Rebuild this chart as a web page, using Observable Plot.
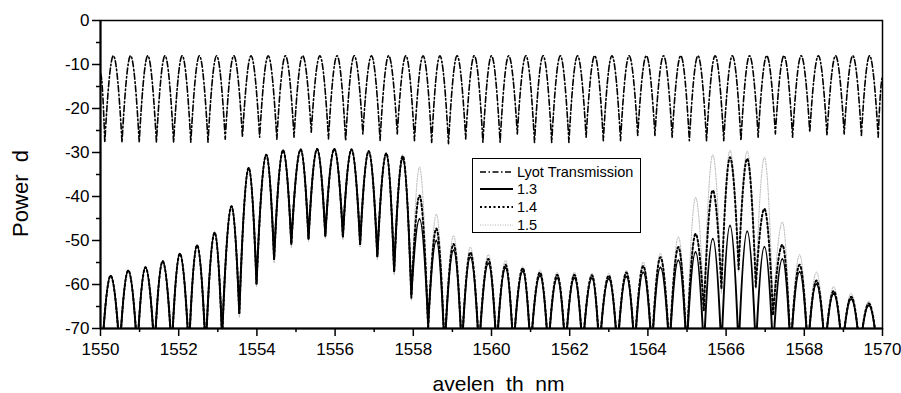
<!DOCTYPE html>
<html>
<head>
<meta charset="utf-8">
<script src="https://cdn.jsdelivr.net/npm/d3@7"></script>
<script src="https://cdn.jsdelivr.net/npm/@observablehq/plot@0.6"></script>
<style>
  body { margin: 0; background: #fff; }
  #wrap { position: relative; width: 901px; height: 393px; font-family: "Liberation Sans", Arial, sans-serif; }
  #legend { position: absolute; left: 472px; top: 158px; width: 169px; height: 75px; border: 1px solid #000;
            background: #fff; box-sizing: border-box; font-size: 14.5px; color: #000; }
  #legend .row { position: absolute; left: 0; height: 18px; display: flex; align-items: center; white-space: nowrap; }
  #legend svg { margin-left: 7px; margin-right: 4px; }
</style>
</head>
<body>
<div id="wrap">
  <div id="chart"></div>
  <div id="legend"></div>
</div>
<script>
// ---- data ----
const xTicks = [1550, 1552, 1554, 1556, 1558, 1560, 1562, 1564, 1566, 1568, 1570];
const xMinorTicks = [1551, 1553, 1555, 1557, 1559, 1561, 1563, 1565, 1567, 1569];
const yTicks = [0, -10, -20, -30, -40, -50, -60, -70];
const yMinorTicks = [-5, -15, -25, -35, -45, -55, -65];

const seriesNames = ["Lyot Transmission", "1.3", "1.4", "1.5"];
const xLabel = "avelen\u00a0\u00a0th\u00a0\u00a0nm";
const yLabel = "Power\u00a0\u00a0d";

// Lyot transmission: peak and dip wavelengths (nm) and levels (dB)
const lyotPeakX = [1550.33,1550.77,1551.21,1551.65,1552.09,1552.53,1552.97,1553.41,1553.85,1554.29,1554.73,1555.17,1555.61,1556.05,1556.49,1556.93,1557.37,1557.81,1558.25,1558.68,1559.12,1559.56,1560.00,1560.44,1560.88,1561.32,1561.76,1562.20,1562.64,1563.08,1563.52,1563.96,1564.40,1564.84,1565.28,1565.72,1566.16,1566.60,1567.04,1567.48,1567.92,1568.36,1568.80,1569.24,1569.67];
const lyotPeakY = [-8,-8,-8,-8,-8,-8,-8,-8,-8,-8,-8,-8,-8,-8,-8,-8,-8,-8,-8,-8,-8,-8,-8,-8,-8,-8,-8,-8,-8,-8,-8,-8,-8,-8,-8,-8,-8,-8,-8,-8,-8,-8,-8,-8,-8];
const lyotDipX = [1550.11,1550.55,1550.99,1551.43,1551.87,1552.31,1552.75,1553.19,1553.63,1554.07,1554.51,1554.95,1555.39,1555.83,1556.27,1556.71,1557.15,1557.59,1558.03,1558.47,1558.90,1559.34,1559.78,1560.22,1560.66,1561.10,1561.54,1561.98,1562.42,1562.86,1563.30,1563.74,1564.18,1564.62,1565.06,1565.50,1565.94,1566.38,1566.82,1567.26,1567.70,1568.14,1568.58,1569.02,1569.46,1569.89];
const lyotDipY = [-27.7,-27.7,-27.7,-27.7,-27.7,-27.7,-27.7,-27.0,-26.5,-26.5,-27.0,-26.5,-25.4,-26.9,-27.3,-25.8,-27.3,-25.8,-27.3,-27.7,-28,-26.9,-27.7,-27.7,-25.8,-27.7,-27.7,-27.7,-26.5,-27.3,-27.3,-26.1,-26.1,-26.5,-27.3,-27.3,-27.3,-27.3,-26.5,-25.8,-26.5,-25.4,-26.1,-25.8,-26.1,-26.5];
const lyotEdgeX = [1550.0, 1570.0];
const lyotEdgeY = [-12, -13];

// Signal curves: shared peak / dip wavelengths
const signalPeakX = [1550.26,1550.71,1551.15,1551.59,1552.03,1552.47,1552.92,1553.35,1553.79,1554.24,1554.67,1555.12,1555.54,1555.98,1556.42,1556.86,1557.31,1557.73,1558.16,1558.59,1559.03,1559.46,1559.92,1560.36,1560.80,1561.24,1561.68,1562.12,1562.57,1563.00,1563.45,1563.88,1564.32,1564.78,1565.22,1565.66,1566.10,1566.54,1566.98,1567.44,1567.88,1568.31,1568.75,1569.20,1569.65];
const signalDipX = [1550.04,1550.49,1550.94,1551.38,1551.82,1552.26,1552.69,1553.11,1553.55,1553.99,1554.44,1554.88,1555.32,1555.75,1556.20,1556.64,1557.08,1557.51,1557.95,1558.38,1558.80,1559.24,1559.68,1560.13,1560.56,1561.00,1561.45,1561.89,1562.33,1562.76,1563.22,1563.66,1564.10,1564.55,1564.99,1565.43,1565.88,1566.32,1566.76,1567.20,1567.65,1568.09,1568.53,1568.97,1569.42,1569.87];

const peak13 = [-58,-56.8,-56.1,-54.7,-53,-51.1,-48.2,-42.2,-33.5,-30.5,-29.5,-29.3,-29.2,-29.2,-29.3,-29.7,-30.2,-31.5,-45.1,-50,-52.2,-53.8,-55.2,-56.2,-57,-58,-58.5,-58.5,-58.5,-58.7,-58.2,-57.2,-56.1,-54.5,-52.6,-49.6,-46.6,-47.9,-51.4,-54.2,-57.1,-59.9,-62.1,-63.3,-64.8];
const dip13 = [-75,-75,-75,-75,-75,-75,-75,-72,-66.5,-59.8,-54.2,-50.8,-49.6,-48.9,-49.1,-50.8,-53.6,-57,-62.5,-69,-75,-75,-75,-75,-75,-75,-75,-75,-75,-75,-75,-75,-75,-75,-75,-75,-75,-75,-75,-75,-75,-75,-75,-75,-75,-75];

const peak14 = [-58,-56.8,-56.1,-54.7,-53,-51.1,-48.2,-42.2,-33.5,-30.5,-29.5,-29.3,-29.2,-29.2,-29.3,-29.7,-30.2,-30.8,-39.8,-47.3,-50.8,-52.7,-54.2,-55.5,-56.3,-57.3,-57.8,-57.8,-57.9,-58,-57.3,-55.8,-53.8,-51.5,-48.5,-38.6,-31.1,-31.4,-42.8,-51,-55.5,-59.1,-61.5,-62.8,-64.3];
const dip14 = [-75,-75,-75,-75,-75,-75,-75,-72,-66.5,-59.8,-54.2,-50.8,-49.6,-48.9,-49.1,-50.8,-53.6,-57,-63,-70,-75,-75,-75,-75,-75,-75,-75,-75,-75,-75,-75,-75,-75,-75,-75,-66,-61,-56.5,-60.5,-67,-75,-75,-75,-75,-75,-75];

const peak15 = [-58,-56.8,-56.1,-54.7,-53,-51.1,-48.2,-42.2,-33.5,-30.5,-29.5,-29.3,-29.2,-29.2,-29.3,-29.7,-30.2,-30.5,-33.3,-44,-48.9,-51.5,-53.2,-54.5,-56,-56.7,-57.2,-57.2,-57.4,-57.5,-56.8,-54.9,-52.9,-49.2,-40.2,-30.5,-29.5,-29.7,-31.1,-45.8,-53.2,-57.2,-60.5,-62,-63.8];
const dip15 = [-75,-75,-75,-75,-75,-75,-75,-73,-67.5,-60.5,-55.1,-51.6,-50.3,-49.6,-49.8,-51.5,-54.3,-57.8,-63.6,-72,-75,-75,-75,-75,-75,-75,-75,-75,-75,-75,-75,-75,-75,-75,-75,-65,-62,-57,-61,-66,-75,-75,-75,-75,-75,-75];

// ---- build tables ----
function merge(...pairs) {
  const rows = [];
  for (const [xs, ys] of pairs) xs.forEach((x, i) => rows.push({x, y: ys[i]}));
  return rows.sort((a, b) => a.x - b.x);
}
const lyot = merge([lyotPeakX, lyotPeakY], [lyotDipX, lyotDipY], [lyotEdgeX, lyotEdgeY]);
const s13 = merge([signalPeakX, peak13], [signalDipX, dip13]);
const s14 = merge([signalPeakX, peak14], [signalDipX, dip14]);
const s15 = merge([signalPeakX, peak15], [signalDipX, dip15]);

// interference-fringe curve: rounded maxima, pointed minima (rendering style only)
function FringeCurve(context) { this._context = context; }
FringeCurve.prototype = {
  areaStart() {}, areaEnd() {},
  lineStart() { this._point = 0; },
  lineEnd() {},
  point(x, y) {
    x = +x; y = +y;
    if (this._point === 0) { this._point = 1; this._context.moveTo(x, y); }
    else {
      const x0 = this._x0, y0 = this._y0, dx = x - x0, dy = y - y0;
      if (y < y0) this._context.bezierCurveTo(x0 + 0.28 * dx, y0 + 0.5 * dy, x - 0.35 * dx, y, x, y);
      else this._context.bezierCurveTo(x0 + 0.35 * dx, y0, x - 0.28 * dx, y - 0.5 * dy, x, y);
    }
    this._x0 = x; this._y0 = y;
  }
};
const fringe = (ctx) => new FringeCurve(ctx);

const styles = {
  "Lyot Transmission": {stroke: "#000", strokeWidth: 1.6, strokeDasharray: "6,2.5,1.5,2.5"},
  "1.3": {stroke: "#000", strokeWidth: 2, strokeDasharray: null},
  "1.4": {stroke: "#000", strokeWidth: 2, strokeDasharray: "2,2.5"},
  "1.5": {stroke: "#b0b0b0", strokeWidth: 1, strokeDasharray: "1,1.5"}
};

const fmt = d => String(d);
const chart = Plot.plot({
  width: 901, height: 393,
  marginLeft: 100, marginRight: 19, marginTop: 20, marginBottom: 65,
  style: {fontFamily: "'Liberation Sans', Arial, sans-serif", fontSize: "17px", color: "#000", background: "#fff", overflow: "visible"},
  x: {domain: [1550, 1570]},
  y: {domain: [-70, 0]},
  marks: [
    Plot.line(s15, {x: "x", y: "y", curve: fringe, clip: true, ...styles["1.5"]}),
    Plot.line(s14, {x: "x", y: "y", curve: fringe, clip: true, ...styles["1.4"]}),
    Plot.line(s13, {x: "x", y: "y", curve: fringe, clip: true, ...styles["1.3"]}),
    Plot.line(lyot, {x: "x", y: "y", curve: fringe, clip: true, ...styles["Lyot Transmission"]}),
    Plot.frame({stroke: "#000", strokeWidth: 1.5}),
    Plot.ruleX([1550], {stroke: "#000", strokeWidth: 2}),
    Plot.ruleY([-70], {stroke: "#000", strokeWidth: 2}),
    Plot.axisX(xTicks, {tickSize: 8, tickPadding: 6, tickFormat: fmt, label: null, fontSize: 17, strokeWidth: 1.5}),
    Plot.axisX(xMinorTicks, {tickSize: 4, tickFormat: () => "", label: null, strokeWidth: 1.5}),
    Plot.axisY(yTicks, {tickSize: 8, tickPadding: 3, tickFormat: fmt, label: null, fontSize: 17, strokeWidth: 1.5}),
    Plot.axisY(yMinorTicks, {tickSize: 4, tickFormat: () => "", label: null, strokeWidth: 1.5}),
    Plot.text([xLabel], {frameAnchor: "bottom", textAnchor: "middle", dx: 7, dy: 62, fontSize: 21, text: d => d}),
    Plot.text([yLabel], {frameAnchor: "left", textAnchor: "middle", lineAnchor: "middle", dx: -80, dy: 19, rotate: -90, fontSize: 22, text: d => d})
  ]
});
document.getElementById("chart").appendChild(chart);

// ---- legend ----
const legend = document.getElementById("legend");
const rowTops = [3.5, 21.3, 39, 57];
seriesNames.forEach((name, i) => {
  const st = styles[name];
  const row = document.createElement("div");
  row.className = "row";
  row.style.top = rowTops[i] + "px";
  const ns = "http://www.w3.org/2000/svg";
  const svg = document.createElementNS(ns, "svg");
  svg.setAttribute("width", 33); svg.setAttribute("height", 10);
  const ln = document.createElementNS(ns, "line");
  ln.setAttribute("x1", 0); ln.setAttribute("x2", 33); ln.setAttribute("y1", 5); ln.setAttribute("y2", 5);
  ln.setAttribute("stroke", st.stroke); ln.setAttribute("stroke-width", st.strokeWidth);
  if (st.strokeDasharray) ln.setAttribute("stroke-dasharray", st.strokeDasharray);
  svg.appendChild(ln);
  row.appendChild(svg);
  const span = document.createElement("span");
  span.textContent = name;
  row.appendChild(span);
  legend.appendChild(row);
});
</script>
</body>
</html>
